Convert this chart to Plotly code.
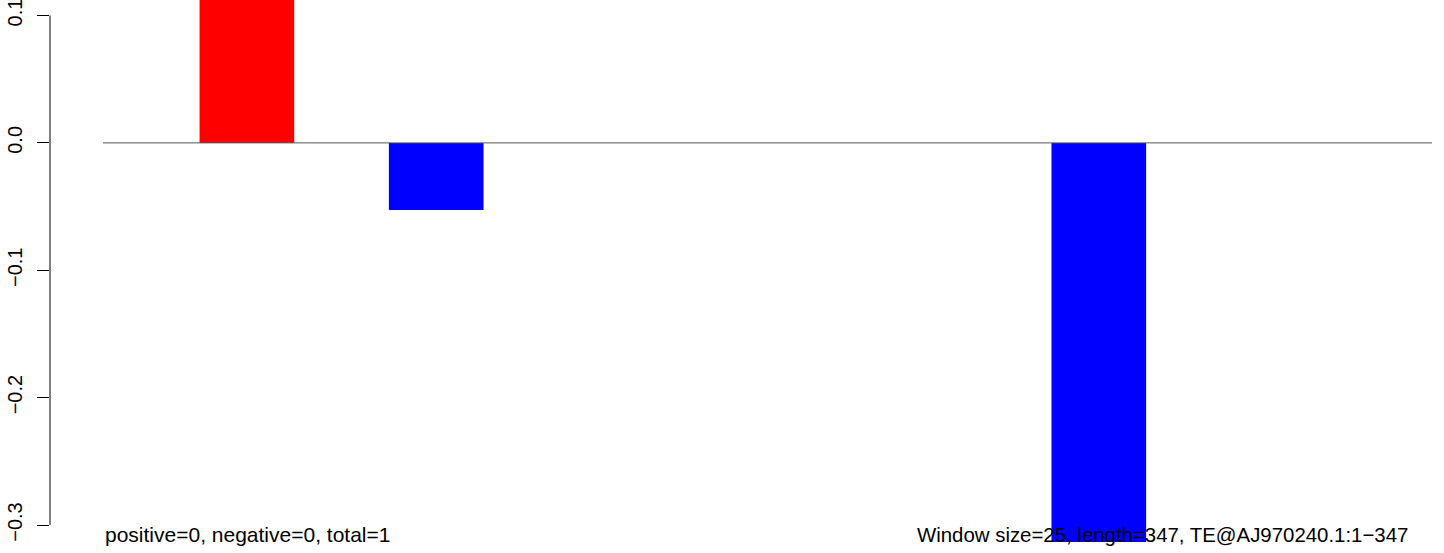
import plotly.graph_objects as go

# Data
window_pos = [1, 3, 10]
scores = [0.12, -0.0527, -0.3133]
bar_colors = ["#FF0000", "#0000FF", "#0000FF"]
y_ticks = [-0.3, -0.2, -0.1, 0.0, 0.1]
left_note = "positive=0, negative=0, total=1"
right_note = "Window size=25, length=347, TE@AJ970240.1:1\u2212347"

FONT = "Liberation Sans, Arial, Helvetica, sans-serif"

fig = go.Figure()
fig.add_trace(go.Bar(
    x=window_pos, y=scores, width=[1] * len(window_pos),
    marker=dict(color=bar_colors, line=dict(width=0)),
    showlegend=False, hoverinfo="skip",
))

# zero reference line across plot region
fig.add_shape(type="line", xref="x", yref="y", x0=-0.52, x1=13.52, y0=0, y1=0,
              line=dict(color="#555555", width=1), layer="above")
# R-style axis line spanning only the tick range
fig.add_shape(type="line", xref="paper", yref="y", x0=0, x1=0,
              y0=min(y_ticks), y1=max(y_ticks),
              line=dict(color="black", width=1), layer="above")

fig.add_annotation(text=left_note, xref="paper", yref="paper",
                   x=0.03835, y=0.033, xanchor="left", yanchor="middle",
                   showarrow=False, font=dict(family=FONT, size=21, color="black"))
fig.add_annotation(text=right_note, xref="paper", yref="paper",
                   x=0.98408, y=0.033, xanchor="right", yanchor="middle",
                   showarrow=False, font=dict(family=FONT, size=20.4, color="black"))

fig.update_layout(
    width=1444, height=553,
    margin=dict(l=50, r=12, t=0, b=0),
    paper_bgcolor="white", plot_bgcolor="white",
    xaxis=dict(range=[-1.08, 13.52], visible=False),
    yaxis=dict(range=[-0.32198, 0.11217], tickvals=y_ticks, tickformat=".1f",
               ticks="outside", ticklen=12, tickwidth=1, tickcolor="black",
               tickangle=-90, showgrid=False, zeroline=False, showline=False,
               ticklabeloverflow="allow", ticklabelstandoff=7,
               tickfont=dict(family=FONT, size=20, color="black")),
    font=dict(family=FONT),
)

fig.write_html("out.html",
               config={"displayModeBar": False},
               post_script="document.body.style.margin='0';document.body.style.overflow='hidden';")
